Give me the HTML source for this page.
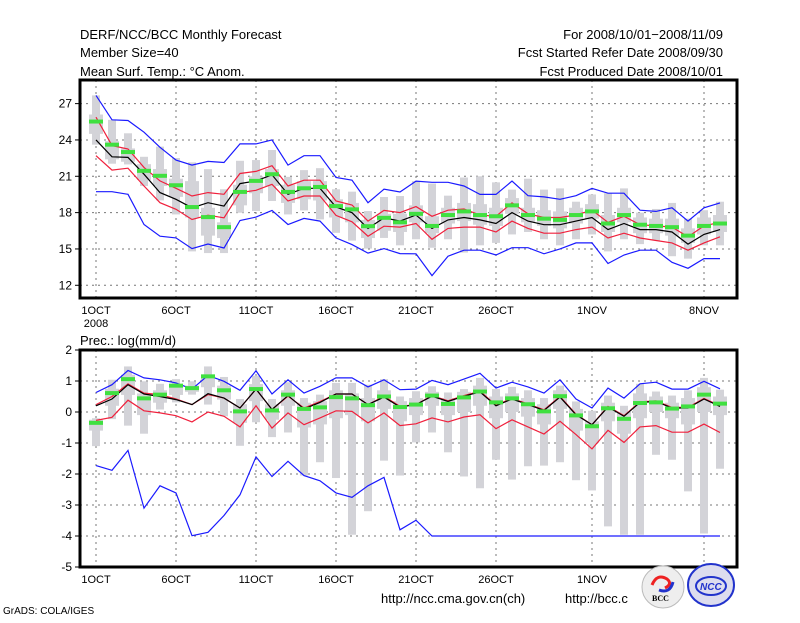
<!DOCTYPE html>
<html><head><meta charset="utf-8">
<style>
html,body{margin:0;padding:0;background:#fff;}
svg text{font-family:"Liberation Sans",sans-serif;fill:#000;}
</style></head>
<body>
<svg id="chart" width="800" height="618" viewBox="0 0 800 618" xmlns="http://www.w3.org/2000/svg">
<rect x="0" y="0" width="800" height="618" fill="#fff"/>
<g font-size="13">
<text x="80" y="39">DERF/NCC/BCC Monthly Forecast</text>
<text x="80" y="57">Member Size=40</text>
<text x="80" y="76">Mean Surf. Temp.: °C Anom.</text>
<text x="723" y="39" text-anchor="end">For 2008/10/01−2008/11/09</text>
<text x="723" y="57" text-anchor="end">Fcst Started Refer Date 2008/09/30</text>
<text x="723" y="76" text-anchor="end">Fcst Produced Date 2008/10/01</text>
<text x="80" y="345">Prec.: log(mm/d)</text>
<text x="381" y="603">http://ncc.cma.gov.cn(ch)</text>
<text x="565" y="603">http://bcc.c</text>
</g>
<text x="3" y="614" font-size="10">GrADS: COLA/IGES</text>
<g id="top"></g>
<g id="bot"></g>
<g>
<circle cx="663" cy="587" r="21" fill="#eee" stroke="#bbb"/>
<path d="M652 585 q5 -12 15 -6 q6 5 -2 9" fill="none" stroke="#e22" stroke-width="3"/>
<path d="M673 582 q-3 12 -14 8" fill="none" stroke="#23c" stroke-width="3"/>
<text x="652" y="601" font-size="8" font-weight="bold" style="font-family:'Liberation Serif',serif">BCC</text>
</g>
<g>
<ellipse cx="711" cy="585" rx="23" ry="21" fill="#dde" stroke="#23c" stroke-width="2"/>
<ellipse cx="711" cy="586" rx="15" ry="9" fill="none" stroke="#23c" stroke-width="2"/>
<text x="700" y="590" font-size="10" font-weight="bold" font-style="italic" fill="#23c" style="fill:#23c">NCC</text>
</g>
</svg>
<script>
var days=["1OCT","6OCT","11OCT","16OCT","21OCT","26OCT","1NOV","8NOV"];
var tickDays=[0,5,10,15,20,25,31,38];
var tTicks=[12,15,18,21,24,27];
var pTicks=[-5,-4,-3,-2,-1,0,1,2];

var tMax=[27.68,25.66,24.55,22.61,23.45,22.51,22.15,21.59,19.93,22.28,22.34,23.17,20.95,21.51,21.67,19.93,19.73,18.13,19.29,19.37,20.6,20.4,19.4,20.9,21.0,20.5,19.9,20.8,19.9,20.0,18.9,19.5,19.6,20.0,18.0,18.3,18.8,17.5,18.2,18.9];
var tMin=[23.61,22.04,21.98,20.20,19.01,17.85,14.80,14.66,14.66,17.99,18.13,18.96,17.85,18.18,17.44,16.33,15.69,15.03,15.91,15.30,15.8,15.1,15.8,14.7,15.3,15.5,16.2,16.4,15.8,15.3,15.8,16.2,14.8,15.8,15.4,15.7,14.4,14.2,15.3,15.3];
var tQ3=[26.1,23.9,23.3,22.0,21.6,20.8,20.6,18.4,17.2,20.3,21.0,21.6,20.3,20.6,20.6,19.1,18.8,17.4,17.9,17.9,18.6,17.7,18.4,18.8,18.7,18.4,19.2,18.4,18.2,18.1,18.4,18.7,17.8,18.4,17.6,17.5,17.5,16.7,17.6,17.8];
var tQ1=[24.5,22.4,22.2,20.7,20.2,19.3,17.6,16.1,15.9,18.6,19.6,20.2,18.8,19.1,19.0,17.6,17.2,15.9,16.5,16.4,17.2,16.3,17.1,17.3,17.0,16.9,17.9,17.2,16.9,16.7,17.1,17.5,16.4,17.2,16.3,16.3,16.1,15.5,16.2,16.4];
var tObs=[25.52,23.61,23.0,21.45,21.04,20.26,18.46,17.63,16.80,19.71,20.62,21.17,19.71,20.01,20.12,18.54,18.27,16.88,17.57,17.2,17.9,16.9,17.8,18.1,17.8,17.7,18.6,17.8,17.5,17.4,17.8,18.1,17.1,17.8,17.0,16.9,16.8,16.1,16.9,17.1];
var tMean=[24.0,22.61,22.56,21.17,19.65,19.10,18.40,18.82,18.54,20.40,20.62,21.12,19.51,20.01,20.01,18.46,17.99,16.69,17.57,17.3,17.8,16.7,17.4,17.6,17.4,17.1,18.0,17.3,17.0,17.0,17.3,17.6,16.6,17.1,16.6,16.6,16.4,15.4,16.2,16.6];
var tRedHi=[25.88,23.53,23.25,21.73,20.62,20.01,19.37,19.65,19.51,21.23,21.40,21.87,20.20,20.68,20.68,18.96,18.63,17.30,18.18,18.0,18.5,17.7,18.2,18.3,17.8,17.7,18.8,17.9,17.6,17.6,17.8,18.2,17.2,17.7,17.0,16.9,16.8,16.0,16.9,17.2];
var tRedLo=[22.70,21.51,21.67,20.20,18.82,18.27,17.43,17.79,17.57,19.65,19.84,20.34,18.96,19.37,19.37,17.77,17.24,16.05,16.88,16.8,17.1,15.8,16.7,16.8,16.8,16.4,17.3,16.7,16.3,16.3,16.6,16.8,15.9,16.3,15.9,15.7,15.5,14.9,15.5,16.0];
var tBlueHi=[27.68,25.66,25.61,24.64,23.39,22.34,21.92,22.23,22.14,23.67,23.67,24.0,21.92,22.70,22.70,20.90,20.68,18.82,19.93,19.7,20.6,20.5,20.5,20.2,19.5,19.5,20.6,19.4,19.3,19.1,19.4,20.0,19.6,19.6,18.2,18.1,18.4,17.3,18.4,18.8];
var tBlueLo=[19.73,19.73,19.51,17.02,16.05,15.91,15.03,15.41,15.08,17.35,17.63,18.18,17.02,17.52,17.30,15.91,15.36,14.66,15.03,14.62,14.6,12.8,14.4,14.9,14.9,14.5,15.1,15.1,14.6,15.0,15.5,15.5,13.8,14.5,14.9,14.9,13.9,13.4,14.2,14.2];

var pMax=[-0.2,1.04,1.47,0.99,0.91,1.06,0.99,1.47,1.13,0.42,1.17,0.42,0.96,0.45,0.56,0.94,0.94,0.88,1.06,0.5,0.67,0.83,0.63,0.74,1.1,0.74,0.81,0.7,0.45,0.85,0.34,0.04,0.53,0.2,0.91,0.66,0.53,0.7,1.1,0.72];
var pMin=[-1.1,-0.23,-0.44,-0.7,0.08,0.31,0.56,0.24,-0.14,-1.09,-0.33,-0.81,-0.66,-2.05,-1.62,-2.13,-3.96,-3.2,-1.57,-2.05,-0.98,-0.66,-1.3,-2.08,-2.46,-1.54,-2.18,-1.75,-1.73,-1.62,-2.2,-2.53,-3.69,-3.96,-3.96,-1.38,-1.54,-2.56,-3.92,-1.83];
var pQ3=[-0.25,0.75,1.2,0.6,0.7,0.9,0.85,1.2,0.85,0.25,0.9,0.25,0.7,0.3,0.35,0.7,0.6,0.45,0.7,0.35,0.45,0.65,0.45,0.65,0.85,0.5,0.6,0.45,0.25,0.7,0.1,-0.3,0.3,0.0,0.6,0.5,0.3,0.45,0.8,0.5];
var pQ1=[-0.6,0.2,0.55,-0.1,0.3,0.55,0.65,0.8,0.4,-0.35,0.35,-0.25,0.2,-0.5,-0.4,-0.2,-0.1,-0.3,0.1,-0.3,-0.1,0.2,-0.1,0.0,0.2,-0.2,0.0,-0.15,-0.4,0.1,-0.6,-1.0,-0.3,-0.7,-0.2,0.0,-0.2,-0.4,0.0,-0.1];
var pObs=[-0.35,0.61,1.06,0.44,0.56,0.85,0.77,1.15,0.7,0.02,0.74,0.05,0.56,0.1,0.15,0.48,0.44,0.22,0.5,0.16,0.24,0.53,0.26,0.47,0.66,0.31,0.44,0.25,0.02,0.51,-0.11,-0.46,0.12,-0.22,0.29,0.31,0.11,0.18,0.56,0.27];
var pMean=[0.2,0.42,0.88,0.58,0.5,0.4,0.24,0.59,0.45,0.13,0.74,0.08,0.53,0.1,0.31,0.58,0.58,0.24,0.48,0.16,0.24,0.51,0.34,0.51,0.65,0.2,0.42,0.24,0.05,0.48,-0.09,-0.41,0.16,-0.14,0.31,0.34,0.13,0.13,0.42,0.18];
var pRedHi=[0.24,0.5,0.91,0.61,0.56,0.42,0.24,0.56,0.45,0.13,0.74,0.08,0.51,0.13,0.34,0.58,0.58,0.24,0.51,0.18,0.24,0.53,0.36,0.53,0.67,0.22,0.44,0.26,0.07,0.5,-0.07,-0.41,0.18,-0.12,0.33,0.36,0.15,0.15,0.44,0.2];
var pRedLo=[-0.27,-0.17,0.38,0.04,-0.03,-0.12,-0.32,0,-0.14,-0.48,0.2,-0.52,-0.03,-0.41,-0.19,0.04,0.02,-0.35,-0.03,-0.44,-0.38,-0.19,-0.32,-0.16,-0.09,-0.54,-0.25,-0.48,-0.71,-0.3,-0.73,-1.19,-0.59,-0.98,-0.48,-0.44,-0.65,-0.65,-0.39,-0.66];
var pBlueHi=[0.63,0.88,1.34,1.1,1.04,0.94,0.74,1.18,0.99,0.7,1.33,0.58,1.04,0.61,0.83,1.1,1.1,0.81,1.04,0.72,0.74,1.02,0.88,1.06,1.25,0.77,0.96,0.81,0.61,1.04,0.42,0.13,0.77,0.45,0.91,0.96,0.74,0.74,0.99,0.75];
var pBlueLo=[-1.73,-1.88,-1.24,-3.1,-2.38,-2.61,-3.99,-3.88,-3.34,-2.67,-1.45,-2.08,-1.59,-2.05,-2.22,-2.61,-2.75,-2.38,-2.11,-3.8,-3.49,-4,-4,-4,-4,-4,-4,-4,-4,-4,-4,-4,-4,-4,-4,-4,-4,-4,-4,-4];

var NS="http://www.w3.org/2000/svg";
function mk(parent,tag,attrs){var e=document.createElementNS(NS,tag);for(var k in attrs)e.setAttribute(k,attrs[k]);parent.appendChild(e);return e;}
function xDay(i){return 96+16*i;}

function panel(g,top,bot,ymin,ymax,ticks,data,pfx,showYear){
  var L=80,R=737;
  function y(v){return bot-(v-ymin)/(ymax-ymin)*(bot-top);}
  // grid
  ticks.forEach(function(t){
    var gl=mk(g,'line',{x1:L,x2:R,y1:y(t),y2:y(t),stroke:'#777','stroke-dasharray':'2,4','stroke-width':1});
    
    
    mk(g,'line',{x1:L-5,x2:L,y1:y(t),y2:y(t),stroke:'#000'});
    var tx=mk(g,'text',{x:L-8,y:y(t)+4,'text-anchor':'end','font-size':12});
    tx.textContent=t;
    
    
  });
  tickDays.forEach(function(d,k){
    var gl=mk(g,'line',{x1:xDay(d),x2:xDay(d),y1:top,y2:bot,stroke:'#777','stroke-dasharray':'2,4'});
    
    
    var tx=mk(g,'text',{x:xDay(d),y:bot+16,'text-anchor':'middle','font-size':11});
    tx.textContent=days[k];
    
    
  });
  if(showYear){var yr=mk(g,'text',{x:xDay(0),y:bot+29,'text-anchor':'middle','font-size':11});yr.textContent='2008';
    
    }
  // boxes
  for(var i=0;i<data.max.length;i++){
    var b=mk(g,'rect',{x:xDay(i)-4,y:y(data.max[i]),width:8,height:Math.max(1,y(data.min[i])-y(data.max[i])),fill:'#d3d3d8'});
    
    
    var q=mk(g,'rect',{x:xDay(i)-7,y:y(data.q3[i]),width:14,height:Math.max(1,y(data.q1[i])-y(data.q3[i])),fill:'#d3d3d8'});
    
    
  }
  function line(arr,col,name){
    var pts=arr.map(function(v,i){return xDay(i)+','+y(v).toFixed(1);}).join(' ');
    var p=mk(g,'polyline',{points:pts,fill:'none',stroke:col,'stroke-width':1.2});
    
    
  }
  line(data.bhi,'#1a1aff',pfx+'-max-line');
  line(data.blo,'#1a1aff',pfx+'-min-line');
  line(data.rhi,'#f0203c',pfx+'-upper-line');
  line(data.rlo,'#f0203c',pfx+'-lower-line');
  line(data.mean,'#000',pfx+'-mean-line');
  for(var j=0;j<data.obs.length;j++){
    var o=mk(g,'rect',{x:xDay(j)-7,y:y(data.obs[j])-2,width:14,height:4,fill:'#40e040'});
    
    
  }
  var fr=mk(g,'rect',{x:L,y:top,width:R-L,height:bot-top,fill:'none',stroke:'#000','stroke-width':3});
  
  
}
panel(document.getElementById('top'),80,298,10.95,28.95,tTicks,
 {max:tMax,min:tMin,q3:tQ3,q1:tQ1,obs:tObs,mean:tMean,rhi:tRedHi,rlo:tRedLo,bhi:tBlueHi,blo:tBlueLo},'temp',true);
panel(document.getElementById('bot'),350,567,-5,2,pTicks,
 {max:pMax,min:pMin,q3:pQ3,q1:pQ1,obs:pObs,mean:pMean,rhi:pRedHi,rlo:pRedLo,bhi:pBlueHi,blo:pBlueLo},'prec',false);
</script>
</body></html>
